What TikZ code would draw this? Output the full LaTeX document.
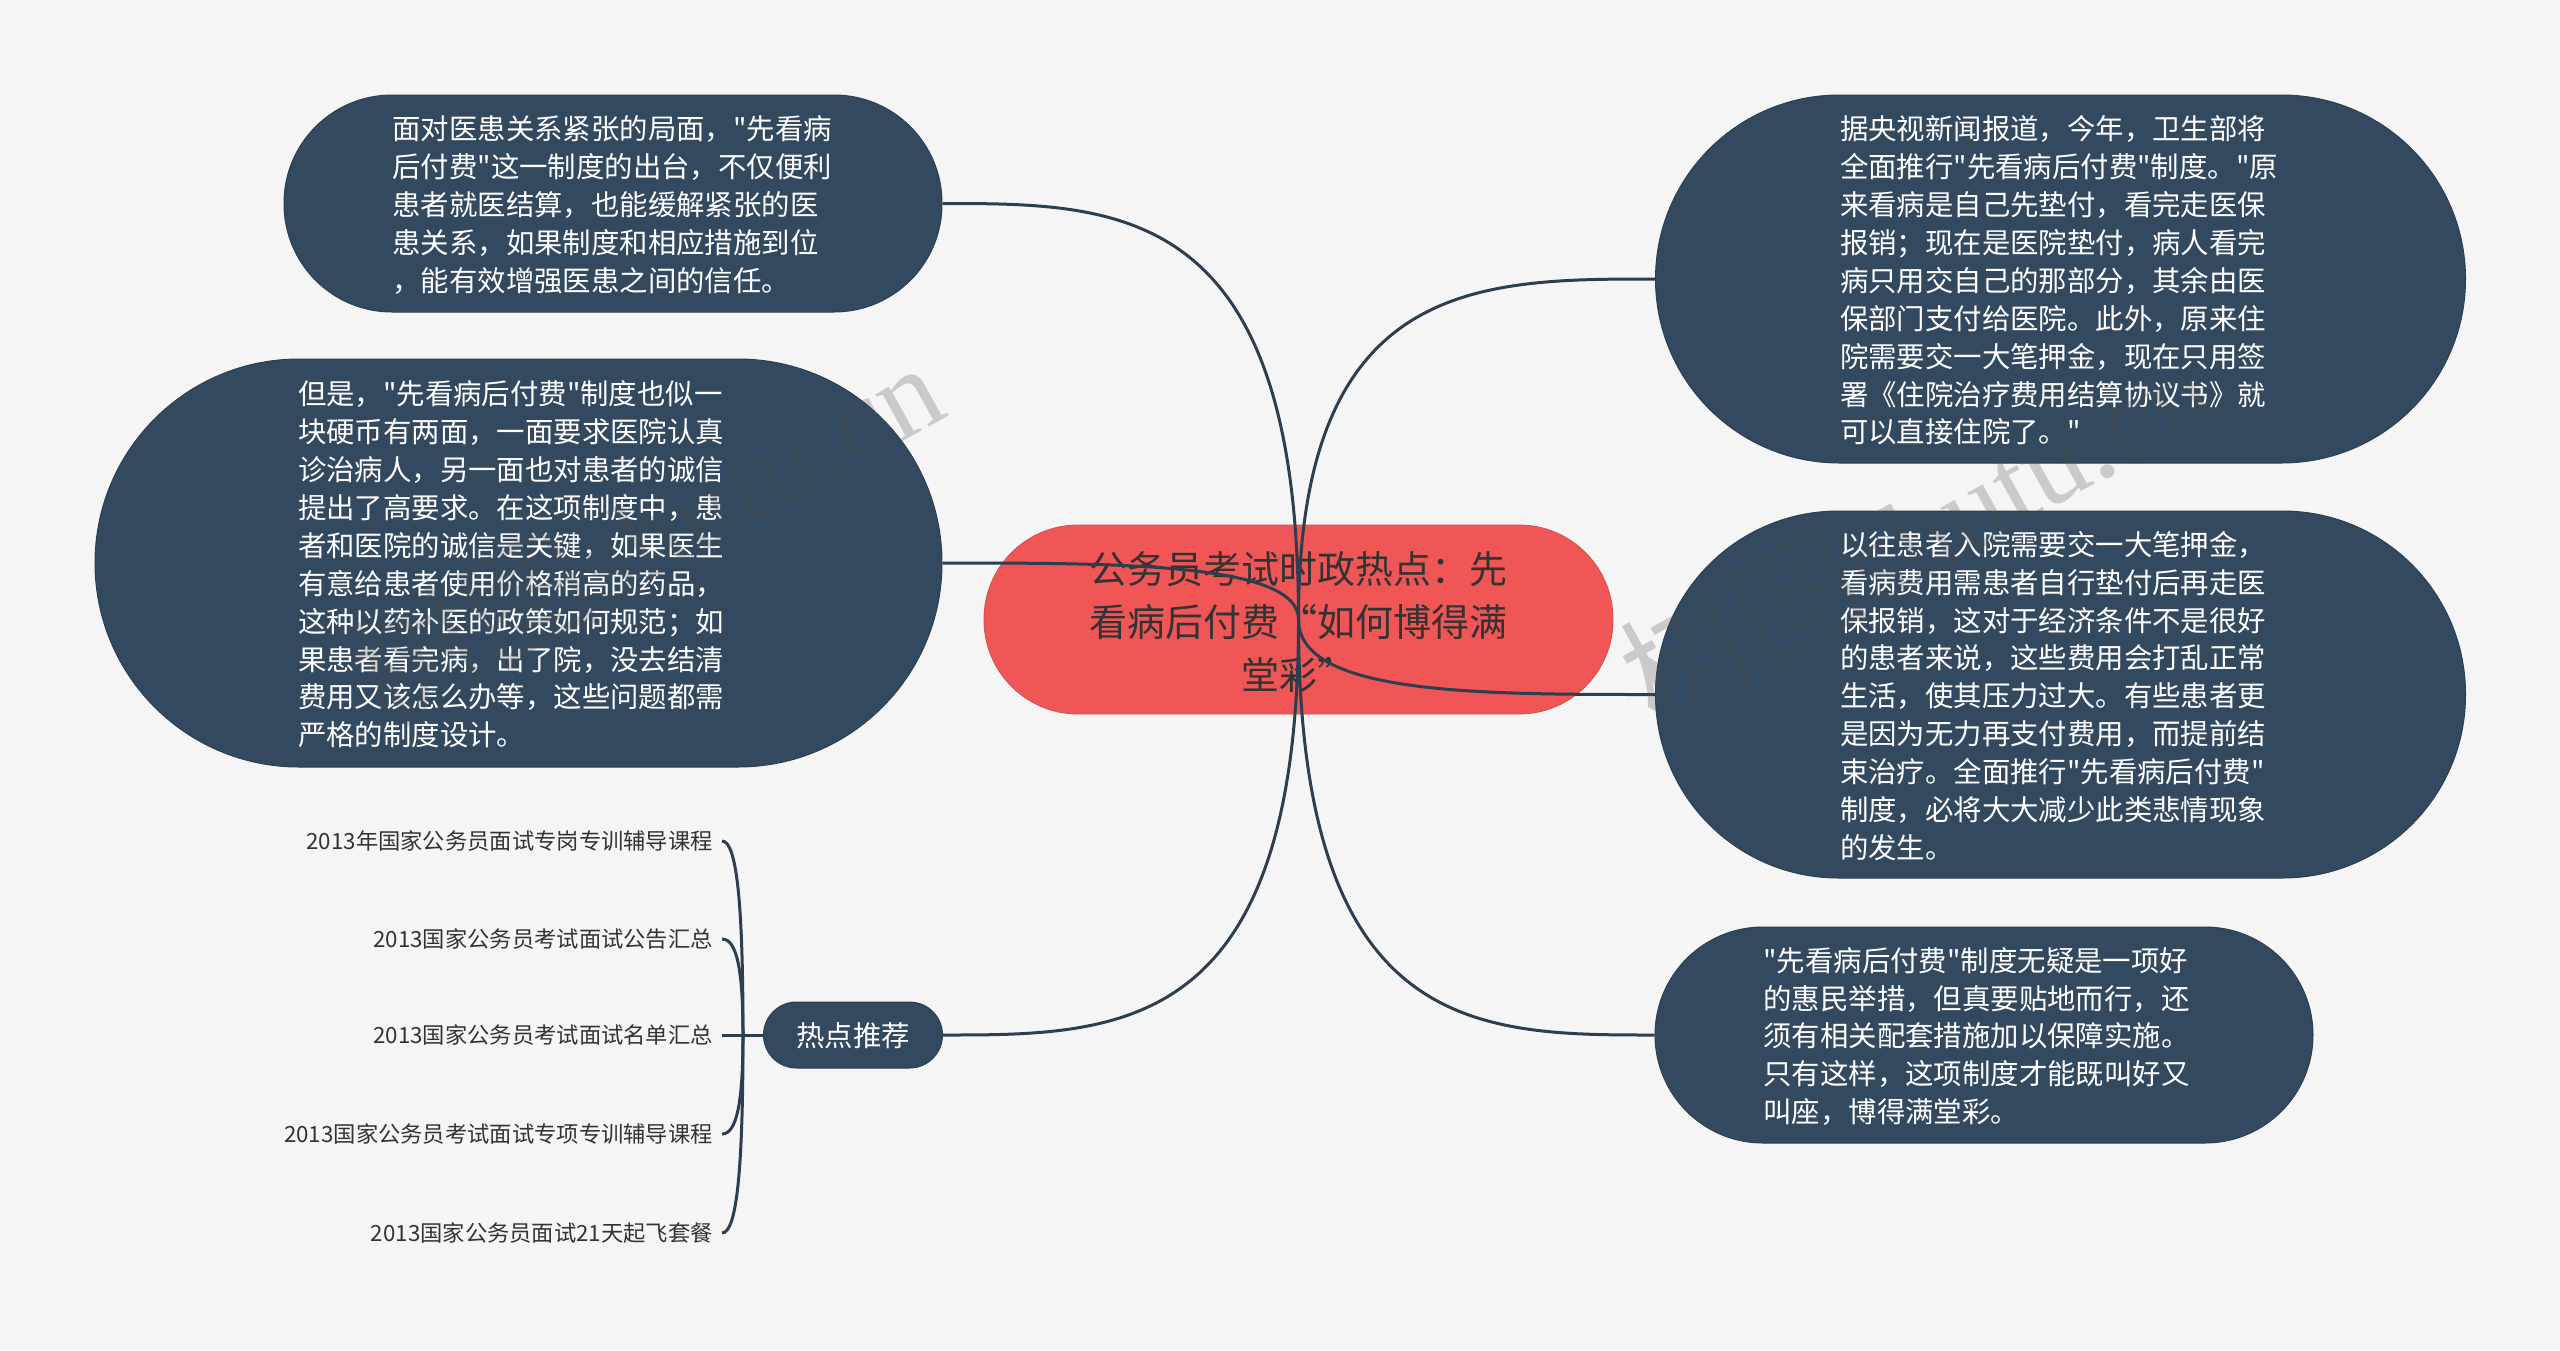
\documentclass[tikz,border=0pt]{standalone}
\usepackage{fontspec}
\setmainfont[Ligatures=TeXOff]{Noto Sans CJK SC}
\newfontfamily\markfont{Liberation Serif}
\usetikzlibrary{calc}
\definecolor{paperbg}{HTML}{F5F5F5}
\definecolor{slatefill}{HTML}{32495F}
\definecolor{slateline}{HTML}{2C3E50}
\definecolor{coralfill}{HTML}{F05656}
\definecolor{inktext}{HTML}{333333}
\tikzset{
	bubble/.style={fill=slatefill, draw=slateline, line width=1pt, text=white, inner sep=0pt, text width=441pt, align=left, execute at end node={\par\vspace*{-3pt}}, font=\fontsize{28.4}{37.9}\selectfont},
	hotitem/.style={text=inktext, inner xsep=9pt, inner ysep=0pt, anchor=east, font=\fontsize{22.3}{28}\selectfont},
	branch/.style={draw=slateline, line width=3pt},
	watermark/.style={text=black!70, opacity=0.25, rotate=29, inner sep=0pt, font=\fontsize{125}{130}\selectfont}
}
\def\branchline(#1)(#2){\draw[branch] (#1) .. controls ($(#1)!0.5!(#2|-#1)$) and (#2|-#1) .. (#2);}
\def\hotline(#1)(#2){\draw[branch] (#1) .. controls ($(#1)+(15, 0)$) and ($(#2|-#1)!0.33!(#2)$) .. (#2);}
\def\marktext{树图{\markfont\fontsize{118}{130}\selectfont shutu.cn}}
\begin{document}
\begin{tikzpicture}[x=1pt, y=-1pt]
	\useasboundingbox (0, 0) rectangle (2560, 1350);
	\fill[paperbg] (0, 0) rectangle (2560, 1350);

	%%%%% centre %%%%%
	\node[fill=coralfill, draw=coralfill!90!black, line width=0.8pt, text=inktext, inner sep=0pt, minimum width=629pt, minimum height=189pt, rounded corners=94pt, text width=600pt, align=center, execute at end node={\par\vspace*{-5pt}}, font=\fontsize{38}{53}\selectfont] (topic) at (1298.5, 619.5) {公务员考试时政热点：先\\看病后付费“如何博得满\\堂彩”};
	\coordinate (hub) at (topic.center);

	%%%%% left side %%%%%
	\node[bubble, minimum width=658pt, minimum height=217pt, rounded corners=108pt] (easeleft) at (613, 203.5) {面对医患关系紧张的局面，"先看病\\后付费"这一制度的出台，不仅便利\\患者就医结算，也能缓解紧张的医\\患关系，如果制度和相应措施到位\\，能有效增强医患之间的信任。};
	\node[bubble, minimum width=847pt, minimum height=408pt, rounded corners=204pt] (trustleft) at (518.5, 563) {但是，"先看病后付费"制度也似一\\块硬币有两面，一面要求医院认真\\诊治病人，另一面也对患者的诚信\\提出了高要求。在这项制度中，患\\者和医院的诚信是关键，如果医生\\有意给患者使用价格稍高的药品，\\这种以药补医的政策如何规范；如\\果患者看完病，出了院，没去结清\\费用又该怎么办等，这些问题都需\\严格的制度设计。};
	\node[bubble, text width=140pt, align=center, minimum width=179pt, minimum height=66pt, rounded corners=33pt] (hotspot) at (853, 1035) {热点推荐};
	\coordinate (hotjoin) at ($(hotspot.west)+(-20, 0)$);

	%%%%% list %%%%%
	\node[hotitem] (itemone) at (722, 841) {2013年国家公务员面试专岗专训辅导课程};
	\node[hotitem] (itemtwo) at (722, 939) {2013国家公务员考试面试公告汇总};
	\node[hotitem] (itemthree) at (722, 1035) {2013国家公务员考试面试名单汇总};
	\node[hotitem] (itemfour) at (722, 1134) {2013国家公务员考试面试专项专训辅导课程};
	\node[hotitem] (itemfive) at (722, 1233) {2013国家公务员面试21天起飞套餐};

	%%%%% right side %%%%%
	\node[bubble, minimum width=810pt, minimum height=368pt, rounded corners=184pt] (newsright) at (2060.5, 279) {据央视新闻报道，今年，卫生部将\\全面推行"先看病后付费"制度。"原\\来看病是自己先垫付，看完走医保\\报销；现在是医院垫付，病人看完\\病只用交自己的那部分，其余由医\\保部门支付给医院。此外，原来住\\院需要交一大笔押金，现在只用签\\署《住院治疗费用结算协议书》就\\可以直接住院了。"};
	\node[bubble, minimum width=810pt, minimum height=367pt, rounded corners=183pt] (pastright) at (2060.5, 694.5) {以往患者入院需要交一大笔押金，\\看病费用需患者自行垫付后再走医\\保报销，这对于经济条件不是很好\\的患者来说，这些费用会打乱正常\\生活，使其压力过大。有些患者更\\是因为无力再支付费用，而提前结\\束治疗。全面推行"先看病后付费"\\制度，必将大大减少此类悲情现象\\的发生。};
	\node[bubble, minimum width=658pt, minimum height=216pt, rounded corners=108pt] (praiseright) at (1984, 1035) {"先看病后付费"制度无疑是一项好\\的惠民举措，但真要贴地而行，还\\须有相关配套措施加以保障实施。\\只有这样，这项制度才能既叫好又\\叫座，博得满堂彩。};

	%%%%% connectors %%%%%
	\branchline(easeleft.east)(hub)
	\branchline(trustleft.east)(hub)
	\branchline(hotspot.east)(hub)
	\branchline(newsright.west)(hub)
	\branchline(pastright.west)(hub)
	\branchline(praiseright.west)(hub)

	\hotline(itemone.east)(hotjoin)
	\hotline(itemtwo.east)(hotjoin)
	\draw[branch] (itemthree.east) -- (hotspot.west);
	\hotline(itemfour.east)(hotjoin)
	\hotline(itemfive.east)(hotjoin)

	%%%%% marks %%%%%
	\node[watermark] (markone) at (645, 530) {\marktext};
	\node[watermark] (marktwo) at (1915, 530) {\marktext};
	\node[watermark] (markthree) at (640, 1532) {\marktext};
	\node[watermark] (markfour) at (1922, 1532) {\marktext};
\end{tikzpicture}
\end{document}
